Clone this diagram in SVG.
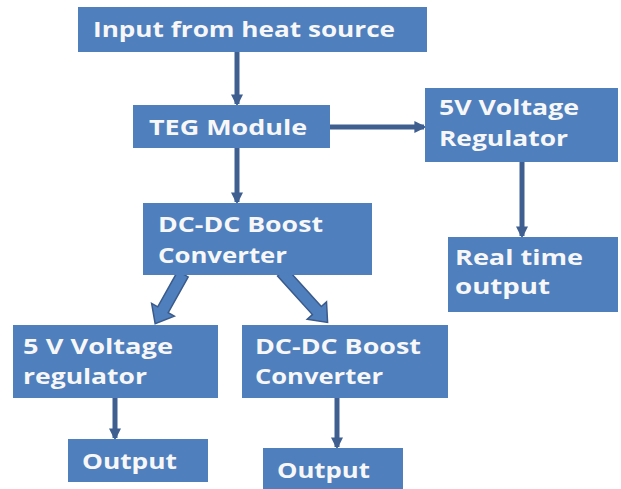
<svg xmlns="http://www.w3.org/2000/svg" width="621" height="489" viewBox="0 0 621 489">
<defs>
<style>
.box{fill:#4f7fbd;}
.t{font-family:"Open Sans","Liberation Sans",sans-serif;font-weight:bold;font-size:21px;fill:#f7f7f7;}
.ln{stroke:#3e5f90;stroke-width:5;fill:none;}
.fat{fill:#4f7fbd;stroke:#3a5a8a;stroke-width:1.5;}
</style>
<marker id="ah" viewBox="0 0 10 10" refX="8" refY="5" markerWidth="2.4" markerHeight="2.4" orient="auto" markerUnits="strokeWidth">
<path d="M0,0 L10,5 L0,10 Z" fill="#3e5f90"/>
</marker>
</defs>
<rect width="621" height="489" fill="#ffffff"/>
<g id="connectors">
<line class="ln" x1="237" y1="52" x2="237" y2="104" marker-end="url(#ah)"/>
<line class="ln" x1="237" y1="148" x2="237" y2="202" marker-end="url(#ah)"/>
<line class="ln" x1="330" y1="127" x2="424" y2="127" marker-end="url(#ah)"/>
<line class="ln" x1="522" y1="162" x2="522" y2="236" marker-end="url(#ah)"/>
<line class="ln" x1="115" y1="398" x2="115" y2="438" marker-end="url(#ah)"/>
<line class="ln" x1="337" y1="398" x2="337" y2="447" marker-end="url(#ah)"/>
<path class="fat" transform="translate(183,274) rotate(119.25)" d="M0,-6 L41,-6 L41,-13 L57,0 L41,13 L41,6 L0,6 Z"/>
<path class="fat" transform="translate(282,272) rotate(47.9)" d="M0,-6 L52,-6 L52,-13 L68,0 L52,13 L52,6 L0,6 Z"/>
</g>
<g id="n-input">
<rect class="box" x="78" y="7" width="349" height="45"/>
<text class="t" transform="scale(1.2 1)" x="77.5" y="37" textLength="251.7" lengthAdjust="spacingAndGlyphs">Input from heat source</text>
</g>
<g id="n-teg">
<rect class="box" x="133" y="105" width="197" height="43"/>
<text class="t" transform="scale(1.2 1)" x="124.2" y="135" textLength="131.7" lengthAdjust="spacingAndGlyphs">TEG Module</text>
</g>
<g id="n-reg5v">
<rect class="box" x="425" y="88" width="193" height="74"/>
<text class="t" transform="scale(1.2 1)" x="365.8" y="115" textLength="116.7" lengthAdjust="spacingAndGlyphs">5V Voltage</text>
<text class="t" transform="scale(1.2 1)" x="365.8" y="146" textLength="107.5" lengthAdjust="spacingAndGlyphs">Regulator</text>
</g>
<g id="n-realtime">
<rect class="box" x="448" y="237" width="170" height="75"/>
<text class="t" transform="scale(1.2 1)" x="379.2" y="265" textLength="106.7" lengthAdjust="spacingAndGlyphs">Real time</text>
<text class="t" transform="scale(1.2 1)" x="379.2" y="294" textLength="79.2" lengthAdjust="spacingAndGlyphs">output</text>
</g>
<g id="n-boost1">
<rect class="box" x="143" y="203" width="229" height="72"/>
<text class="t" transform="scale(1.2 1)" x="131.7" y="232" textLength="137.5" lengthAdjust="spacingAndGlyphs">DC-DC Boost</text>
<text class="t" transform="scale(1.2 1)" x="131.7" y="263" textLength="107.5" lengthAdjust="spacingAndGlyphs">Converter</text>
</g>
<g id="n-reg5v2">
<rect class="box" x="13" y="325" width="205" height="73"/>
<text class="t" transform="scale(1.2 1)" x="19.2" y="354" textLength="125" lengthAdjust="spacingAndGlyphs">5 V Voltage</text>
<text class="t" transform="scale(1.2 1)" x="19.2" y="384" textLength="103.3" lengthAdjust="spacingAndGlyphs">regulator</text>
</g>
<g id="n-boost2">
<rect class="box" x="242" y="325" width="206" height="73"/>
<text class="t" transform="scale(1.2 1)" x="212.5" y="354" textLength="138.3" lengthAdjust="spacingAndGlyphs">DC-DC Boost</text>
<text class="t" transform="scale(1.2 1)" x="212.5" y="384" textLength="106.7" lengthAdjust="spacingAndGlyphs">Converter</text>
</g>
<g id="n-out1">
<rect class="box" x="68" y="439" width="140" height="43"/>
<text class="t" transform="scale(1.2 1)" x="68.3" y="469" textLength="79.2" lengthAdjust="spacingAndGlyphs">Output</text>
</g>
<g id="n-out2">
<rect class="box" x="263" y="448" width="140" height="41"/>
<text class="t" transform="scale(1.2 1)" x="230.8" y="478" textLength="77.5" lengthAdjust="spacingAndGlyphs">Output</text>
</g>
</svg>
